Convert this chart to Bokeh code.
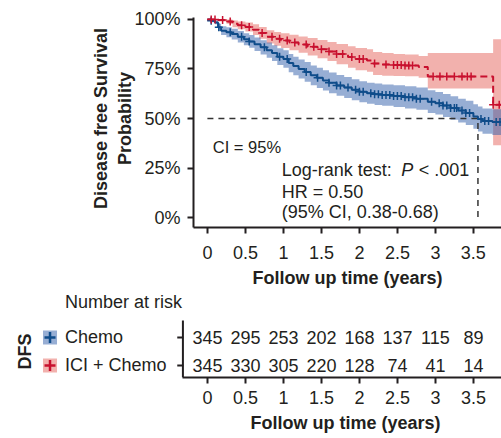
import numpy as np
from bokeh.plotting import figure
from bokeh.models import Range1d, FixedTicker, Label, NumeralTickFormatter, Title
from bokeh.layouts import column, row
from bokeh.embed import file_html
from bokeh.resources import INLINE
from bokeh.core.properties import value

FONT = "Liberation Sans"
INK = "#231f20"
BLUE = "#0f4c8a"
RED = "#c8102e"
BLUE_BAND = "#2f5daa"
RED_BAND = "#e5635c"

# ---------------- data ----------------
chemo_t = [0, 0.05, 0.10, 0.14, 0.18, 0.25, 0.32, 0.40, 0.48, 0.55, 0.62, 0.70, 0.78, 0.85, 0.92,
           1.0, 1.07, 1.13, 1.2, 1.28, 1.36, 1.44, 1.52, 1.6, 1.7, 1.8, 1.9, 2.0, 2.1, 2.2, 2.3,
           2.45, 2.6, 2.75, 2.9, 3.0, 3.1, 3.2, 3.3, 3.4, 3.5, 3.56, 3.62, 3.75, 3.87]
chemo_s = [1.0, .993, .985, .96, .943, .935, .926, .912, .90, .889, .875, .859, .845, .83, .812,
           .80, .78, .765, .75, .735, .718, .705, .692, .68, .667, .657, .645, .635, .628, .622, .618,
           .613, .607, .60, .585, .577, .565, .553, .54, .528, .51, .497, .487, .482, .482]
chemo_hi = [1.0, 1.0, .995, .978, .965, .96, .953, .941, .93, .921, .909, .895, .883, .87, .854,
            .844, .826, .812, .798, .785, .768, .756, .743, .732, .719, .71, .698, .688, .681, .676, .672,
            .668, .663, .656, .642, .634, .623, .612, .60, .589, .572, .56, .551, .547, .547]
chemo_lo = [1.0, .986, .975, .942, .921, .91, .899, .883, .87, .857, .841, .823, .807, .79, .77,
            .756, .734, .718, .702, .685, .668, .654, .641, .628, .615, .604, .592, .582, .575, .568, .564,
            .558, .551, .544, .528, .52, .507, .494, .48, .467, .448, .434, .423, .417, .417]
chemo_cens = [0.05, 0.15, 0.3, 0.45, 0.55, 0.75, 0.95, 1.05, 1.3, 1.45, 1.6, 1.7, 1.75, 1.85, 1.95,
              2.0, 2.05, 2.15, 2.2, 2.25, 2.3, 2.35, 2.4, 2.45, 2.5, 2.55, 2.6, 2.65, 2.7, 2.75, 2.8,
              2.95, 3.05, 3.1, 3.15, 3.2, 3.25, 3.28, 3.35, 3.4, 3.45, 3.6, 3.65, 3.7, 3.8, 3.85]

ici_t = [0, 0.12, 0.25, 0.33, 0.40, 0.50, 0.60, 0.68, 0.78, 0.88, 0.97, 1.08, 1.2, 1.32, 1.45,
         1.58, 1.7, 1.85, 1.95, 2.1, 2.18, 2.3, 2.45, 2.6, 2.78, 2.9, 3.76, 3.87]
ici_s = [1.0, .997, .99, .978, .97, .962, .948, .932, .912, .902, .893, .883, .873, .862, .85,
         .838, .825, .81, .80, .793, .778, .773, .77, .768, .76, .712, .57, .57]
ici_hi = [1.0, 1.0, 1.0, .995, .99, .985, .975, .962, .945, .937, .93, .922, .914, .906, .896,
          .886, .876, .864, .856, .85, .836, .83, .826, .823, .815, .83, .9, .9]
ici_lo = [1.0, .99, .978, .96, .95, .939, .921, .902, .879, .867, .856, .844, .832, .818, .804,
          .79, .774, .756, .744, .736, .72, .716, .714, .713, .705, .652, .365, .365]
ici_cens = [0.05, 0.1, 0.2, 0.3, 0.45, 0.55, 0.72, 0.85, 0.95, 1.05, 1.15, 1.3, 1.4, 1.5, 1.6, 1.7,
            1.78, 1.9, 2.0, 2.05, 2.2, 2.35, 2.45, 2.5, 2.55, 2.6, 2.65, 2.7, 2.97, 3.06, 3.15, 3.25,
            3.35, 3.42, 3.47, 3.76, 3.84]

x_ticks = [0, 0.5, 1, 1.5, 2, 2.5, 3, 3.5]
x_tick_labels = ["0", "0.5", "1", "1.5", "2", "2.5", "3", "3.5"]
y_ticks = [0, 0.25, 0.5, 0.75, 1.0]

groups = ["Chemo", "ICI + Chemo"]
risk_times = [0, 0.5, 1, 1.5, 2, 2.5, 3, 3.5]
risk_chemo = [345, 295, 253, 202, 168, 137, 115, 89]
risk_ici = [345, 330, 305, 220, 128, 74, 41, 14]

X_END = 3.87


def km_at(times, surv, q):
    times = np.asarray(times)
    surv = np.asarray(surv)
    idx = np.searchsorted(times, np.asarray(q), side="right") - 1
    return surv[idx]


def style_axis(ax):
    ax.axis_line_width = 2
    ax.axis_line_color = INK
    ax.major_tick_line_width = 2
    ax.major_tick_line_color = INK
    ax.major_tick_out = 6
    ax.major_tick_in = 0
    ax.minor_tick_out = 0
    ax.minor_tick_in = 0
    ax.major_label_text_font = FONT
    ax.major_label_text_font_size = "18px"
    ax.major_label_text_color = INK
    ax.axis_label_text_font = FONT
    ax.axis_label_text_font_size = "18px"
    ax.axis_label_text_font_style = "bold"
    ax.axis_label_text_color = INK


def add_text(fig, x, y, text, size="18px", style="normal", **kw):
    fig.add_layout(Label(x=x, y=y, text=text, text_font=FONT, text_font_size=size,
                         text_font_style=style, text_color=INK, text_baseline="middle", **kw))


# ---------------- main KM plot ----------------
p = figure(width=501, height=292, x_range=Range1d(-0.183, X_END), y_range=Range1d(-0.05, 1.05),
           output_backend="svg", toolbar_location=None,
           min_border_left=193, min_border_right=0, min_border_top=9, min_border_bottom=65)
p.grid.visible = False
p.outline_line_color = None

p.varea_step(x=ici_t, y1=ici_lo, y2=ici_hi, step_mode="after", fill_color=RED_BAND, fill_alpha=0.5)
p.varea_step(x=chemo_t, y1=chemo_lo, y2=chemo_hi, step_mode="after", fill_color=BLUE_BAND, fill_alpha=0.5)

# median survival line for the chemo arm
ct = np.asarray(chemo_t)
cs = np.asarray(chemo_s)
median_t = float(ct[np.argmax(cs <= 0.5)])
p.line(x=[0, median_t, median_t], y=[0.5, 0.5, 0], line_color="#333333", line_width=1.5, line_dash="6 5")

p.step(x=chemo_t, y=chemo_s, mode="after", line_color=BLUE, line_width=2)
p.step(x=ici_t, y=ici_s, mode="after", line_color=RED, line_width=2, line_dash="7 4")
p.scatter(x=chemo_cens, y=km_at(chemo_t, chemo_s, chemo_cens), marker="cross", size=8,
          line_color=BLUE, line_width=1.5)
p.scatter(x=ici_cens, y=km_at(ici_t, ici_s, ici_cens), marker="cross", size=8,
          line_color=RED, line_width=1.5)

style_axis(p.xaxis[0])
style_axis(p.yaxis[0])
p.xaxis.ticker = FixedTicker(ticks=x_ticks)
p.xaxis.major_label_overrides = dict(zip(x_ticks, x_tick_labels))
p.xaxis.axis_label = "Follow up time (years)"
p.xaxis.major_label_standoff = 12
p.xaxis.axis_label_standoff = 6
p.yaxis.ticker = FixedTicker(ticks=y_ticks)
p.yaxis.formatter = NumeralTickFormatter(format="0%")
p.yaxis.axis_label = "Disease free Survival\nProbability"
p.yaxis.major_label_standoff = 7
p.yaxis.axis_label_standoff = -4
p.yaxis.bounds = (-0.05, 1.01)

add_text(p, 0.07, 0.355, "CI = 95%", size="16.5px")
add_text(p, 0.978, 0.239, "Log-rank test:")
add_text(p, 2.55, 0.239, "P", style="italic")
add_text(p, 2.78, 0.239, "< .001")
add_text(p, 0.978, 0.128, "HR = 0.50")
add_text(p, 0.978, 0.026, "(95% CI, 0.38-0.68)")

# ---------------- number-at-risk table ----------------
TABLE_AXIS_X = -0.325      # where the table's vertical axis sits (years scale)
TABLE_AXIS_TOP = 1.607     # top end of the table's vertical axis (row scale)
row_y = [len(groups) - 1 - i for i in range(len(groups))]

tf = figure(width=501, height=146, x_range=Range1d(-2.727, X_END), y_range=Range1d(-0.429, 2.607),
            output_backend="svg", toolbar_location=None, y_axis_location=None,
            min_border_left=0, min_border_right=0, min_border_top=0, min_border_bottom=61)
tf.grid.visible = False
tf.outline_line_color = None

# vertical axis of the table with its two row ticks
tf.segment(x0=[TABLE_AXIS_X], y0=[tf.y_range.start], x1=[TABLE_AXIS_X], y1=[TABLE_AXIS_TOP],
           line_color=INK, line_width=2)
tf.scatter(x=[TABLE_AXIS_X - 0.035] * len(row_y), y=row_y, marker="dash", size=6,
           line_color=INK, line_width=2)

for counts, yy in zip([risk_chemo, risk_ici], row_y):
    tf.text(x=risk_times, y=[yy] * len(risk_times), text=[str(v) for v in counts],
            text_align="center", text_baseline="middle", text_font_size="18px", text_color=INK,
            text_font=value(FONT))

# legend part of the table
tf.scatter(x=[-2.075] * len(row_y), y=row_y, marker="square", size=14,
           fill_color=["#97aed4", "#f2b1ad"], line_color=None)
tf.scatter(x=[-2.075] * len(row_y), y=row_y, marker="cross", size=11, line_width=2.5,
           line_color=[BLUE, RED])
tf.text(x=[-1.878] * len(row_y), y=row_y, text=groups, text_align="left", text_baseline="middle",
        text_font_size="18px", text_color=INK, text_font=value(FONT))
tf.text(x=[-2.404], y=[0.5], text=["DFS"], angle=np.pi / 2, text_align="center",
        text_baseline="middle", text_font_size="18px", text_font_style="bold", text_color=INK,
        text_font=value(FONT))
tf.text(x=[-1.878], y=[2.25], text=["Number at risk"], text_align="left", text_baseline="middle",
        text_font_size="18px", text_color=INK, text_font=value(FONT))

style_axis(tf.xaxis[0])
tf.xaxis.bounds = (TABLE_AXIS_X, X_END)
tf.xaxis.ticker = FixedTicker(ticks=x_ticks)
tf.xaxis.major_label_overrides = dict(zip(x_ticks, x_tick_labels))
tf.xaxis.major_label_standoff = 7

tf.add_layout(Title(text="Follow up time (years)", align="left", offset=250, standoff=8,
                    text_font=FONT, text_font_size="18px", text_font_style="bold",
                    text_color=INK), "below")

layout = column(p, row(tf, spacing=0), spacing=0)
open("out.html", "w").write(file_html(layout, INLINE))
